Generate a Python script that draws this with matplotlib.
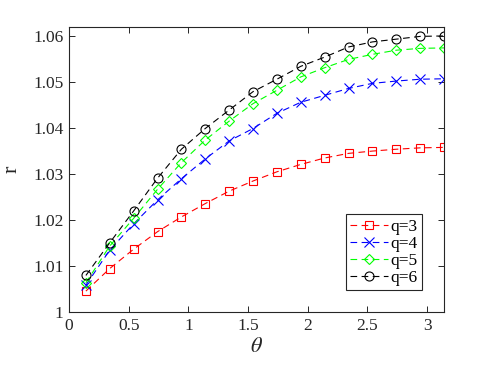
import matplotlib
matplotlib.use("Agg")
import matplotlib.pyplot as plt

theta = [0.1416, 0.3416, 0.5416, 0.7416, 0.9416, 1.1416, 1.3416, 1.5416,
         1.7416, 1.9416, 2.1416, 2.3416, 2.5416, 2.7416, 2.9416, 3.1416]

r_q3 = [1.0046, 1.0095, 1.0137, 1.0175, 1.0207, 1.0236, 1.0263, 1.0285,
        1.0305, 1.0321, 1.0335, 1.0345, 1.0350, 1.0354, 1.0357, 1.0358]
r_q4 = [1.0059, 1.0135, 1.0192, 1.0244, 1.0290, 1.0333, 1.0372, 1.0399,
        1.0432, 1.0456, 1.0471, 1.0486, 1.0497, 1.0502, 1.0506, 1.0507]
r_q5 = [1.0064, 1.0144, 1.0204, 1.0267, 1.0325, 1.0374, 1.0415, 1.0453,
        1.0482, 1.0511, 1.0531, 1.0549, 1.0560, 1.0569, 1.0573, 1.0574]
r_q6 = [1.0080, 1.0151, 1.0220, 1.0291, 1.0354, 1.0399, 1.0439, 1.0479,
        1.0506, 1.0534, 1.0554, 1.0576, 1.0587, 1.0593, 1.0599, 1.0600]

labels = ["q=3", "q=4", "q=5", "q=6"]
xticks = [0, 0.5, 1, 1.5, 2, 2.5, 3]
xticklabels = ["0", "0.5", "1", "1.5", "2", "2.5", "3"]
yticks = [1.0, 1.01, 1.02, 1.03, 1.04, 1.05, 1.06]
yticklabels = ["1", "1.01", "1.02", "1.03", "1.04", "1.05", "1.06"]

plt.rcParams['font.family'] = ['Liberation Serif', 'DejaVu Serif']
plt.rcParams['mathtext.fontset'] = 'stix'

fig = plt.figure(figsize=(4.91, 3.68), dpi=100)
ax = fig.add_axes([0.1405, 0.1514, 0.7638, 0.776])

axc = '#262626'
series = [r_q3, r_q4, r_q5, r_q6]
colors = ['#ff0000', '#0000ff', '#00ff00', '#000000']
markers = ['s', 'x', 'D', 'o']
msizes = [5.5, 6.5, 5, 6.5]
for ys, c, m, ms, lab in zip(series, colors, markers, msizes, labels):
    ax.plot(theta, ys, linestyle=(0, (6, 4)), color=c, marker=m, markersize=ms,
            markerfacecolor='none', markeredgecolor=c, linewidth=0.8,
            markeredgewidth=0.8, label=lab)

ax.set_xlim(0, 3.1416)
ax.set_ylim(1.0, 1.062)
ax.set_xticks(xticks)
ax.set_xticklabels(xticklabels)
ax.set_yticks(yticks)
ax.set_yticklabels(yticklabels)
ax.tick_params(direction='in', top=True, right=True, length=4, width=0.7,
               colors=axc, labelsize=12.5, labelcolor=axc, pad=4)
for s in ax.spines.values():
    s.set_color(axc)
    s.set_linewidth(0.8)

ax.set_xlabel(r'$\theta$', fontsize=16, color=axc, labelpad=3)
ax.set_ylabel('r', fontsize=16, color=axc, labelpad=8)

leg = ax.legend(loc='lower right', bbox_to_anchor=(0.94, 0.077), fontsize=12.5,
                frameon=True, fancybox=False, edgecolor=axc, framealpha=1,
                handlelength=2.2, handletextpad=0.1, borderpad=0.25,
                labelspacing=0.05, borderaxespad=0)
leg.get_frame().set_linewidth(0.8)

fig.savefig('out.png', dpi=100)
